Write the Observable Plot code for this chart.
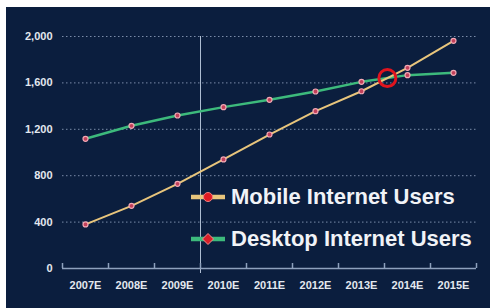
<!DOCTYPE html>
<html><head><meta charset="utf-8">
<script src="https://cdn.jsdelivr.net/npm/d3@7"></script>
<script src="https://cdn.jsdelivr.net/npm/@observablehq/plot@0.6"></script>
<style>
html,body{margin:0;padding:0;background:#fff;}
body{width:492px;height:308px;overflow:hidden;position:relative;font-family:"Liberation Sans",Arial,sans-serif;}
#chart{position:absolute;left:6px;top:7px;}
.leg{position:absolute;height:24px;display:flex;align-items:center;white-space:nowrap;}
.leg span{font-weight:bold;font-size:22px;color:#f1f3f7;margin-left:6px;line-height:24px;}
</style></head>
<body>
<div id="chart"></div>
<div id="legend"></div>
<script>
const years = ["2007E","2008E","2009E","2010E","2011E","2012E","2013E","2014E","2015E"];
const mobile = [380, 540, 730, 940, 1155, 1356, 1528, 1730, 1963];
const desktop = [1118, 1230, 1319, 1391, 1454, 1526, 1609, 1667, 1687];
const yTicks = [0, 400, 800, 1200, 1600, 2000];
const forecastFrom = "2010E";
const seriesNames = ["Mobile Internet Users", "Desktop Internet Users"];
const seriesColors = ["#e8c57c", "#3dba7c"];

const idx = years.map((d, i) => i);
const mobileData = idx.map(i => ({i, v: mobile[i]}));
const desktopData = idx.map(i => ({i, v: desktop[i]}));
const boundaries = d3.range(years.length + 1).map(i => i - 0.5);
const divider = years.indexOf(forecastFrom) - 0.5;

// crossing point of the two series (derived from the data)
let cross = null;
for (let i = 0; i < years.length - 1; i++) {
  const a = mobile[i] - desktop[i], b = mobile[i+1] - desktop[i+1];
  if (a < 0 && b >= 0) {
    const t = -a / (b - a);
    cross = {i: i + t, v: mobile[i] + t * (mobile[i+1] - mobile[i])};
  }
}

const chart = Plot.plot({
  width: 484, height: 301,
  marginLeft: 56, marginRight: 14, marginTop: 29, marginBottom: 40,
  style: {background: "#0b1e3e", fontFamily: "'Liberation Sans', Arial, sans-serif", overflow: "visible"},
  x: {type: "linear", domain: [-0.5, years.length - 0.5]},
  y: {domain: [0, 2000]},
  marks: [
    Plot.ruleY(yTicks.filter(d => d > 0), {stroke: "#7a8ba8", strokeDasharray: "1.5,2.5", strokeWidth: 1}),
    Plot.ruleX([divider], {y1: 2000, y2: 0, insetBottom: -5, stroke: "#aebdd2", strokeWidth: 1}),
    Plot.ruleY([0], {stroke: "#8ea1bd", strokeWidth: 1.5}),
    Plot.ruleX(boundaries, {y1: 0, y2: 0, insetTop: -5, stroke: "#8ea1bd", strokeWidth: 1.5}),
    Plot.axisX(idx, {tickFormat: i => years[i], tickSize: 0, tickPadding: 13, fontWeight: "bold", fontSize: 11, fill: "#e3e8ef", label: null}),
    Plot.axisY(yTicks, {tickFormat: d3.format(","), tickSize: 0, tickPadding: 10, fontWeight: "bold", fontSize: 11, fill: "#e3e8ef", label: null}),
    Plot.line(desktopData, {x: "i", y: "v", stroke: seriesColors[1], strokeWidth: 2.5}),
    Plot.line(mobileData, {x: "i", y: "v", stroke: seriesColors[0], strokeWidth: 2}),
    Plot.dot(desktopData.concat(mobileData), {x: "i", y: "v", r: 2.5, fill: "#c2405a", stroke: "#f2a8b4", strokeWidth: 1.2}),
    cross ? Plot.dot([cross], {x: "i", y: "v", r: 8.5, fill: "none", stroke: "#e0141e", strokeWidth: 3}) : null
  ]
});
document.getElementById("chart").appendChild(chart);

// legend overlay
const leg = document.getElementById("legend");
const legTops = [185, 227];
seriesNames.forEach((name, k) => {
  const row = document.createElement("div");
  row.className = "leg";
  row.style.left = "191px";
  row.style.top = legTops[k] + "px";
  const icon = k === 0
    ? `<circle cx="17" cy="12" r="4.5" fill="#e21a22" stroke="#f08080" stroke-width="1"/>`
    : `<path d="M17 6.5 L22.5 12 L17 17.5 L11.5 12 Z" fill="#d81e28" stroke="#f09090" stroke-width="1"/>`;
  row.innerHTML = `<svg width="34" height="24"><line x1="0" x2="34" y1="12" y2="12" stroke="${seriesColors[k]}" stroke-width="4.5"/>${icon}</svg><span>${name}</span>`;
  leg.appendChild(row);
});
</script>
</body></html>
